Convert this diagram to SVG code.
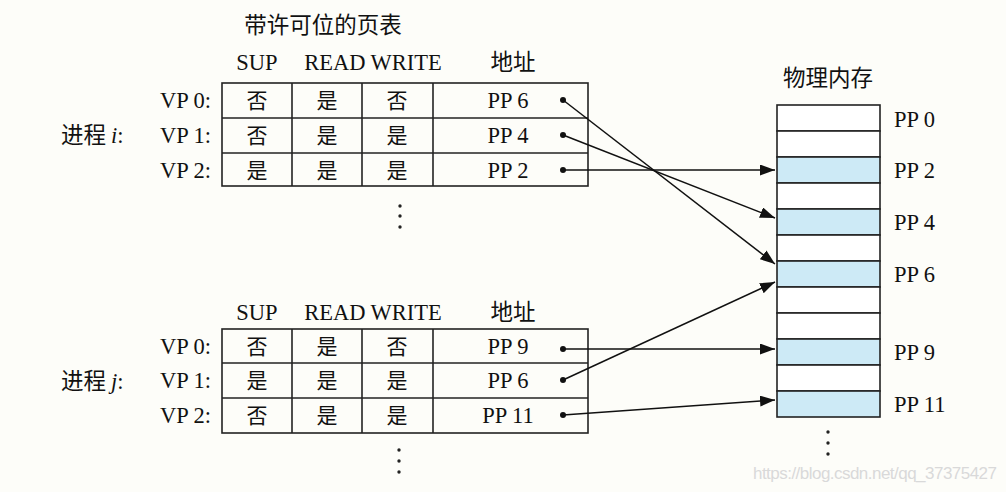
<svg xmlns="http://www.w3.org/2000/svg" width="1006" height="492" viewBox="0 0 1006 492">
<defs>
<style>
.t{font-family:"Liberation Serif","Times New Roman",serif;font-size:22.5px;fill:#111}
.c{font-family:"Noto Sans CJK SC","Noto Sans CJK JP",sans-serif;font-size:21px;fill:#111}
.ct{font-family:"Noto Sans CJK SC","Noto Sans CJK JP",sans-serif;font-size:22.5px;fill:#111}
.mid{text-anchor:middle}
.end{text-anchor:end}
.grid{fill:none;stroke:#222;stroke-width:1.6}
.cell{stroke:#222;stroke-width:1.6}
.w{fill:#ffffff}
.b{fill:#cdeaf6}
.con{stroke:#111;stroke-width:1.5;fill:none;marker-end:url(#ah)}
.dot{fill:#111}
.dots{fill:#222}
</style>
<marker id="ah" markerUnits="userSpaceOnUse" markerWidth="16" markerHeight="12" refX="15" refY="5.5" orient="auto">
<path d="M0,0 L15,5.5 L0,11 Z" fill="#111"/>
</marker>
</defs>
<rect width="1006" height="492" fill="#fdfdf9"/>

<g id="title-pagetable">
<text class="ct mid" x="323" y="33">带许可位的页表</text>
</g>

<g id="table-i">
<text class="t mid" x="257" y="70">SUP</text>
<text class="t mid" x="373" y="70">READ WRITE</text>
<text class="ct mid" x="513" y="70">地址</text>
<rect class="grid" x="222" y="83" width="366" height="103" fill="#fff"/>
<line class="grid" x1="222" y1="118" x2="588" y2="118"/>
<line class="grid" x1="222" y1="153" x2="588" y2="153"/>
<line class="grid" x1="292" y1="83" x2="292" y2="186"/>
<line class="grid" x1="362" y1="83" x2="362" y2="186"/>
<line class="grid" x1="433" y1="83" x2="433" y2="186"/>
<text class="t end" x="211" y="108">VP 0:</text>
<text class="t end" x="211" y="143">VP 1:</text>
<text class="t end" x="211" y="178">VP 2:</text>
<text class="c mid" x="257" y="108">否</text>
<text class="c mid" x="327" y="108">是</text>
<text class="c mid" x="397" y="108">否</text>
<text class="c mid" x="257" y="143">否</text>
<text class="c mid" x="327" y="143">是</text>
<text class="c mid" x="397" y="143">是</text>
<text class="c mid" x="257" y="178">是</text>
<text class="c mid" x="327" y="178">是</text>
<text class="c mid" x="397" y="178">是</text>
<text class="t mid" x="508" y="108">PP 6</text>
<text class="t mid" x="508" y="143">PP 4</text>
<text class="t mid" x="508" y="178">PP 2</text>
<circle class="dot" cx="563" cy="100" r="3"/>
<circle class="dot" cx="563" cy="135" r="3"/>
<circle class="dot" cx="563" cy="170" r="3"/>
<text x="61" y="143"><tspan class="ct">进程 </tspan><tspan class="t" font-style="italic">i</tspan><tspan class="t">:</tspan></text>
<circle class="dots" cx="400" cy="206" r="1.7"/>
<circle class="dots" cx="400" cy="216" r="1.7"/>
<circle class="dots" cx="400" cy="227" r="1.7"/>
</g>

<g id="table-j">
<text class="t mid" x="257" y="320">SUP</text>
<text class="t mid" x="373" y="320">READ WRITE</text>
<text class="ct mid" x="513" y="320">地址</text>
<rect class="grid" x="222" y="329" width="366" height="104" fill="#fff"/>
<line class="grid" x1="222" y1="363" x2="588" y2="363"/>
<line class="grid" x1="222" y1="398" x2="588" y2="398"/>
<line class="grid" x1="292" y1="329" x2="292" y2="433"/>
<line class="grid" x1="362" y1="329" x2="362" y2="433"/>
<line class="grid" x1="433" y1="329" x2="433" y2="433"/>
<text class="t end" x="211" y="354">VP 0:</text>
<text class="t end" x="211" y="388">VP 1:</text>
<text class="t end" x="211" y="423">VP 2:</text>
<text class="c mid" x="257" y="354">否</text>
<text class="c mid" x="327" y="354">是</text>
<text class="c mid" x="397" y="354">否</text>
<text class="c mid" x="257" y="388">是</text>
<text class="c mid" x="327" y="388">是</text>
<text class="c mid" x="397" y="388">是</text>
<text class="c mid" x="257" y="423">否</text>
<text class="c mid" x="327" y="423">是</text>
<text class="c mid" x="397" y="423">是</text>
<text class="t mid" x="508" y="354">PP 9</text>
<text class="t mid" x="508" y="388">PP 6</text>
<text class="t mid" x="508" y="423">PP 11</text>
<circle class="dot" cx="563" cy="349" r="3"/>
<circle class="dot" cx="563" cy="380" r="3"/>
<circle class="dot" cx="563" cy="415" r="3"/>
<text x="61" y="389"><tspan class="ct">进程 </tspan><tspan class="t" font-style="italic">j</tspan><tspan class="t">:</tspan></text>
<circle class="dots" cx="399" cy="450" r="1.7"/>
<circle class="dots" cx="399" cy="461" r="1.7"/>
<circle class="dots" cx="399" cy="472" r="1.7"/>
</g>

<g id="memory">
<text class="ct mid" x="828" y="86">物理内存</text>
<rect class="cell w" x="777" y="105" width="103" height="26"/>
<rect class="cell w" x="777" y="131" width="103" height="26"/>
<rect class="cell b" x="777" y="157" width="103" height="26"/>
<rect class="cell w" x="777" y="183" width="103" height="26"/>
<rect class="cell b" x="777" y="209" width="103" height="26"/>
<rect class="cell w" x="777" y="235" width="103" height="26"/>
<rect class="cell b" x="777" y="261" width="103" height="26"/>
<rect class="cell w" x="777" y="287" width="103" height="26"/>
<rect class="cell w" x="777" y="313" width="103" height="26"/>
<rect class="cell b" x="777" y="339" width="103" height="26"/>
<rect class="cell w" x="777" y="365" width="103" height="26"/>
<rect class="cell b" x="777" y="391" width="103" height="26"/>
<text class="t" x="894" y="127">PP 0</text>
<text class="t" x="894" y="178">PP 2</text>
<text class="t" x="894" y="230">PP 4</text>
<text class="t" x="894" y="282">PP 6</text>
<text class="t" x="894" y="360">PP 9</text>
<text class="t" x="894" y="412">PP 11</text>
<circle class="dots" cx="828" cy="432" r="1.7"/>
<circle class="dots" cx="828" cy="443" r="1.7"/>
<circle class="dots" cx="828" cy="454" r="1.7"/>
</g>

<g id="connectors">
<line class="con" x1="563" y1="100" x2="775" y2="264"/>
<line class="con" x1="563" y1="135" x2="775" y2="218"/>
<line class="con" x1="563" y1="170" x2="775" y2="170"/>
<line class="con" x1="563" y1="349" x2="775" y2="349"/>
<line class="con" x1="563" y1="380" x2="775" y2="282"/>
<line class="con" x1="563" y1="415" x2="775" y2="400"/>
</g>

<text x="753" y="479" font-family="Liberation Sans, Arial, sans-serif" font-size="17" fill="#d9d9d9" textLength="244">https://blog.csdn.net/qq_37375427</text>
</svg>
